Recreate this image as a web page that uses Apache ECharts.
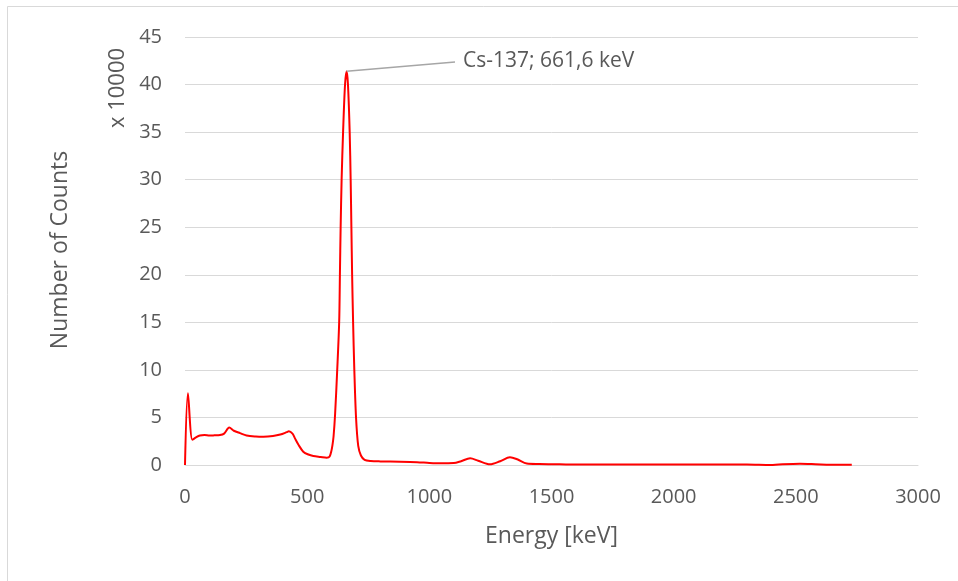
<!DOCTYPE html>
<html>
<head>
<meta charset="utf-8">
<script src="https://cdn.jsdelivr.net/npm/echarts@6/dist/echarts.min.js"></script>
<style>
  html, body { margin: 0; padding: 0; background: #ffffff; }
  #chart { width: 958px; height: 581px; }
</style>
</head>
<body>
<div id="chart"></div>
<script>
// Gamma spectrum: energy in keV, counts in units of 10000
const energyKeV = [
  0, 12, 30, 45, 61, 80, 100, 120, 143, 160, 181, 200, 225, 252, 290, 321, 360, 390,
  416, 425, 440, 450, 465, 484, 505, 525, 555, 580, 592, 600, 603, 608, 614, 623, 631,
  634, 637, 641, 647, 655, 661.6, 667, 674, 678, 681, 684, 688, 693, 700, 709, 720, 735,
  760, 800, 880, 950, 1000, 1044, 1100, 1130, 1167, 1200, 1248, 1290, 1330, 1360, 1399,
  1450, 1510, 1576, 1800, 2100, 2300, 2398, 2430, 2517, 2580, 2640, 2729
];
const countsX10000 = [
  0, 7.55, 2.65, 2.9, 3.1, 3.15, 3.1, 3.12, 3.15, 3.3, 3.93, 3.6, 3.35, 3.1, 3.0, 2.98, 3.05, 3.2,
  3.45, 3.55, 3.3, 2.8, 2.1, 1.4, 1.1, 0.95, 0.85, 0.77, 0.9, 1.58, 2.0, 3.0, 5.2, 10, 15,
  20, 25, 30, 35, 40, 41.4, 40, 35, 30, 25, 20, 15, 10, 5, 2, 1, 0.55,
  0.42, 0.38, 0.35, 0.3, 0.22, 0.18, 0.2, 0.4, 0.7, 0.45, 0.07, 0.4, 0.82, 0.6, 0.15,
  0.1, 0.08, 0.05, 0.05, 0.05, 0.05, 0.0, 0.05, 0.12, 0.08, 0.03, 0.02
];

// Labelled photopeak
const peakName = 'Cs-137; 661,6 keV';
const peakEnergy = 661.6;
const peakCounts = 41.4;

const xTicks = { min: 0, max: 3000, step: 500 };
const yTicks = { min: 0, max: 45, step: 5 };

const spectrum = energyKeV.map((e, i) => [e, countsX10000[i]]);

const chart = echarts.init(document.getElementById('chart'), null, { renderer: 'canvas' });
const font = '"Open Sans", "Noto Sans", sans-serif';
const textGrey = '#595959';
const gridGrey = '#d9d9d9';

chart.setOption({
  animation: false,
  backgroundColor: '#ffffff',
  grid: { left: 185, right: 40, top: 37, bottom: 116 },
  xAxis: {
    type: 'value',
    min: xTicks.min, max: xTicks.max, interval: xTicks.step,
    name: 'Energy [keV]',
    nameLocation: 'middle',
    nameGap: 60,
    nameTextStyle: { color: textGrey, fontFamily: font, fontSize: 23 },
    axisLine: { show: true, lineStyle: { color: gridGrey, width: 1 } },
    axisTick: { show: false },
    splitLine: { show: false },
    axisLabel: {
      color: textGrey, fontFamily: font, fontSize: 20, margin: 22,
      formatter: v => String(v)
    }
  },
  yAxis: {
    type: 'value',
    min: yTicks.min, max: yTicks.max, interval: yTicks.step,
    axisLine: { show: false },
    axisTick: { show: false },
    splitLine: { show: true, lineStyle: { color: gridGrey, width: 1 } },
    axisLabel: {
      color: textGrey, fontFamily: font, fontSize: 20, margin: 23,
      formatter: v => String(v)
    }
  },
  graphic: [
    {
      type: 'rect',
      shape: { x: 7.5, y: 6.5, width: 1000, height: 1000 },
      style: { fill: 'none', stroke: gridGrey, lineWidth: 1 },
      silent: true, z: -10
    },
    {
      type: 'text',
      x: 60, y: 250, rotation: Math.PI / 2,
      style: {
        text: 'Number of Counts', fill: textGrey, font: '23px ' + font,
        textAlign: 'center', textVerticalAlign: 'middle'
      }
    },
    {
      type: 'text',
      x: 118, y: 88, rotation: Math.PI / 2,
      style: {
        text: 'x 10000', fill: textGrey, font: '22px ' + font,
        textAlign: 'center', textVerticalAlign: 'middle'
      }
    }
  ],
  series: [{
    type: 'line',
    data: spectrum,
    showSymbol: false,
    smooth: 0.3,
    lineStyle: { color: '#ff0000', width: 2 },
    itemStyle: { color: '#ff0000' },
    markLine: {
      silent: true,
      symbol: ['none', 'none'],
      lineStyle: { color: '#a6a6a6', width: 1.5, type: 'solid' },
      label: {
        show: true, position: 'end', distance: 8,
        formatter: peakName,
        color: textGrey, fontFamily: font, fontSize: 21
      },
      data: [[
        { coord: [peakEnergy, peakCounts] },
        { x: 455, y: 62 }
      ]]
    }
  }]
});
</script>
</body>
</html>
